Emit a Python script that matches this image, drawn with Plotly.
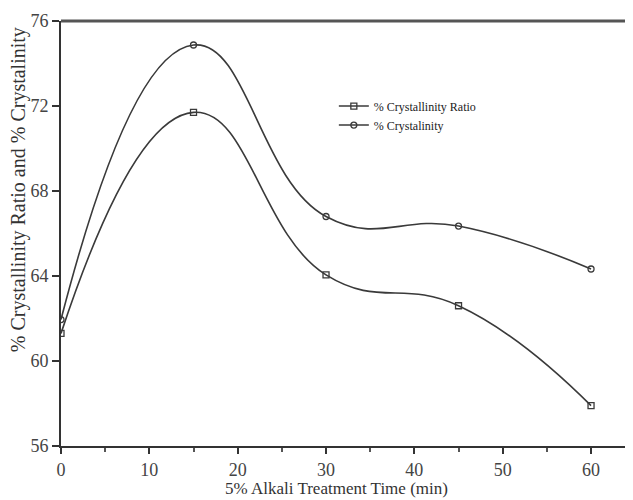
import plotly.graph_objects as go

time_min = [0, 15, 30, 45, 60]
crystallinity_ratio = [61.3, 71.7, 64.05, 62.6, 57.9]
crystallinity = [61.95, 74.87, 66.8, 66.35, 64.33]

x_ticks = [0, 10, 20, 30, 40, 50, 60]
y_ticks = [56, 60, 64, 68, 72, 76]

line_col = "#3a3a3a"
font_fam = "Liberation Serif, Times New Roman, serif"

fig = go.Figure()
fig.add_trace(go.Scatter(
    x=time_min, y=crystallinity_ratio, name="% Crystallinity Ratio",
    mode="lines+markers", line=dict(color=line_col, width=1.6, shape="spline", smoothing=1.3),
    marker=dict(symbol="square-open", size=6, color=line_col, line=dict(width=1.3)),
))
fig.add_trace(go.Scatter(
    x=time_min, y=crystallinity, name="% Crystalinity",
    mode="lines+markers", line=dict(color=line_col, width=1.6, shape="spline", smoothing=1.3),
    marker=dict(symbol="circle-open", size=6, color=line_col, line=dict(width=1.3)),
))

fig.update_layout(
    width=625, height=492,
    margin=dict(l=53, r=0, t=13, b=54, autoexpand=False),
    paper_bgcolor="white", plot_bgcolor="white",
    font=dict(family=font_fam, color="#333"),
    showlegend=True,
    legend=dict(x=0.477, y=0.834, xanchor="left", yanchor="top",
                font=dict(size=12, family=font_fam, color="#222"),
                bgcolor="rgba(0,0,0,0)", itemwidth=30, tracegroupgap=0),
    xaxis=dict(
        range=[0, 64.75], tickvals=x_ticks, ticktext=[str(v) for v in x_ticks],
        showgrid=False, zeroline=False, showline=True, linecolor="#333", linewidth=2,
        ticks="outside", ticklen=6, tickwidth=1.5, tickcolor="#333", automargin=False,
        tickfont=dict(size=18, family=font_fam, color="#444"),
        minor=dict(dtick=5, tick0=0, ticks="outside", ticklen=4, tickwidth=1.5, tickcolor="#555", showgrid=False),
    ),
    yaxis=dict(
        range=[56, 76], tickvals=y_ticks, ticktext=[str(v) for v in y_ticks],
        showgrid=False, zeroline=False, showline=True, linecolor="#333", linewidth=2,
        ticks="outside", ticklen=7, tickwidth=1.5, tickcolor="#333", automargin=False,
        tickfont=dict(size=18, family=font_fam, color="#444"),
    ),
    shapes=[dict(type="line", xref="paper", yref="paper", x0=0, x1=1, y0=1, y1=1,
                 line=dict(color="#555", width=3))],
    annotations=[
        dict(text="5% Alkali Treatment Time (min)", xref="paper", yref="paper",
             x=0.481, y=-0.101, xanchor="center", yanchor="middle", showarrow=False,
             font=dict(size=17, family=font_fam, color="#333")),
        dict(text="% Crystallinity Ratio and % Crystalinity", xref="paper", yref="paper",
             x=0, xshift=-43, y=0.602, xanchor="center", yanchor="middle", textangle=-90,
             showarrow=False, font=dict(size=20, family=font_fam, color="#333")),
    ],
)

fig.write_html("out.html")
